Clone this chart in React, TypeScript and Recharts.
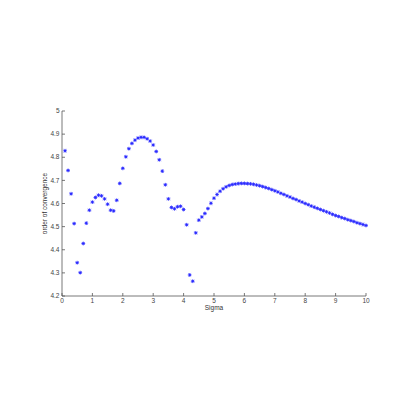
import React from 'react';
import { ScatterChart, Scatter, XAxis, YAxis } from 'recharts';

const sigma = [
  0.1, 0.2, 0.3, 0.4, 0.5, 0.6, 0.7, 0.8, 0.9, 1.0,
  1.1, 1.2, 1.3, 1.4, 1.5, 1.6, 1.7, 1.8, 1.9, 2.0,
  2.1, 2.2, 2.3, 2.4, 2.5, 2.6, 2.7, 2.8, 2.9, 3.0,
  3.1, 3.2, 3.3, 3.4, 3.5, 3.6, 3.7, 3.8, 3.9, 4.0,
  4.1, 4.2, 4.3, 4.4, 4.5, 4.6, 4.7, 4.8, 4.9, 5.0,
  5.1, 5.2, 5.3, 5.4, 5.5, 5.6, 5.7, 5.8, 5.9, 6.0,
  6.1, 6.2, 6.3, 6.4, 6.5, 6.6, 6.7, 6.8, 6.9, 7.0,
  7.1, 7.2, 7.3, 7.4, 7.5, 7.6, 7.7, 7.8, 7.9, 8.0,
  8.1, 8.2, 8.3, 8.4, 8.5, 8.6, 8.7, 8.8, 8.9, 9.0,
  9.1, 9.2, 9.3, 9.4, 9.5, 9.6, 9.7, 9.8, 9.9, 10.0,
];

const order = [
  4.828, 4.743, 4.642, 4.513, 4.344, 4.301, 4.427, 4.515, 4.571, 4.606,
  4.626, 4.636, 4.633, 4.620, 4.597, 4.571, 4.568, 4.614, 4.687, 4.752,
  4.802, 4.837, 4.860, 4.874, 4.883, 4.886, 4.886, 4.880, 4.870, 4.853,
  4.825, 4.789, 4.740, 4.681, 4.620, 4.583, 4.577, 4.586, 4.588, 4.574,
  4.508, 4.291, 4.264, 4.473, 4.528, 4.542, 4.557, 4.578, 4.601, 4.623,
  4.639, 4.653, 4.664, 4.672, 4.678, 4.682, 4.684, 4.686, 4.687, 4.687,
  4.686, 4.685, 4.683, 4.680, 4.677, 4.673, 4.669, 4.665, 4.660, 4.655,
  4.650, 4.644, 4.639, 4.633, 4.628, 4.622, 4.617, 4.611, 4.606, 4.600,
  4.595, 4.589, 4.584, 4.579, 4.574, 4.569, 4.564, 4.559, 4.553, 4.548,
  4.544, 4.539, 4.535, 4.530, 4.526, 4.522, 4.517, 4.513, 4.509, 4.505,
];

const xTicks = [0, 1, 2, 3, 4, 5, 6, 7, 8, 9, 10];
const yTicks = [4.2, 4.3, 4.4, 4.5, 4.6, 4.7, 4.8, 4.9, 5];
const yTickLabels = ['4.2', '4.3', '4.4', '4.5', '4.6', '4.7', '4.8', '4.9', '5'];

const data = sigma.map((s, i) => ({ sigma: s, order: order[i] }));

const BLUE = '#2a2aff';
const AXIS = '#555';
const FONT = 'Liberation Sans, Arial, sans-serif';

const Star = (props: any) => {
  const { cx, cy } = props;
  if (cx == null || cy == null) return null;
  const r = 1.9;
  const d = 1.4;
  return (
    <g>
      <line x1={cx - r} y1={cy} x2={cx + r} y2={cy} stroke={BLUE} strokeWidth={0.8} />
      <line x1={cx} y1={cy - r} x2={cx} y2={cy + r} stroke={BLUE} strokeWidth={0.8} />
      <line x1={cx - d} y1={cy - d} x2={cx + d} y2={cy + d} stroke={BLUE} strokeWidth={0.8} />
      <line x1={cx - d} y1={cy + d} x2={cx + d} y2={cy - d} stroke={BLUE} strokeWidth={0.8} />
      <circle cx={cx} cy={cy} r={1} fill={BLUE} />
    </g>
  );
};

const XTick = (props: any) => {
  const { x, y, payload } = props;
  return (
    <g>
      <line x1={x} y1={y} x2={x} y2={y - 3} stroke={AXIS} strokeWidth={0.8} />
      <text x={x} y={y + 7} textAnchor="middle" fontSize={6.5} fill="#444" fontFamily={FONT}>
        {payload.value}
      </text>
    </g>
  );
};

const YTick = (props: any) => {
  const { x, y, payload } = props;
  const idx = yTicks.indexOf(payload.value);
  return (
    <g>
      <line x1={x} y1={y} x2={x + 3} y2={y} stroke={AXIS} strokeWidth={0.8} />
      <text x={x - 2.5} y={y + 2.2} textAnchor="end" fontSize={6.5} fill="#444" fontFamily={FONT}>
        {idx >= 0 ? yTickLabels[idx] : payload.value}
      </text>
    </g>
  );
};

export default function App() {
  return (
    <ScatterChart
      width={400}
      height={400}
      margin={{ top: 103, right: 42, bottom: 111, left: 53 }}
    >
      <XAxis
        dataKey="sigma"
        type="number"
        domain={[0, 10]}
        ticks={xTicks}
        height={1}
        tickSize={0}
        tickMargin={0}
        tickLine={false}
        tick={<XTick />}
        axisLine={{ stroke: AXIS, strokeWidth: 0.8 }}
        interval={0}
        label={{
          content: (p: any) => {
            const vb = p.viewBox || {};
            return (
              <text
                x={vb.x + vb.width / 2}
                y={vb.y + 14}
                textAnchor="middle"
                fontSize={6.5}
                fill="#333"
                fontFamily={FONT}
              >
                Sigma
              </text>
            );
          },
        }}
      />
      <YAxis
        dataKey="order"
        type="number"
        domain={[4.2, 5]}
        ticks={yTicks}
        width={1}
        tickSize={0}
        tickMargin={0}
        tickLine={false}
        tick={<YTick />}
        axisLine={{ stroke: AXIS, strokeWidth: 0.8 }}
        interval={0}
        label={{
          content: (p: any) => {
            const vb = p.viewBox || {};
            const cx = vb.x + vb.width - 15;
            const cy = vb.y + vb.height / 2;
            return (
              <text
                x={cx}
                y={cy}
                textAnchor="middle"
                fontSize={6.5}
                fill="#333"
                fontFamily={FONT}
                transform={`rotate(-90 ${cx} ${cy})`}
              >
                order of convergence
              </text>
            );
          },
        }}
      />
      <Scatter data={data} shape={<Star />} isAnimationActive={false} />
    </ScatterChart>
  );
}
